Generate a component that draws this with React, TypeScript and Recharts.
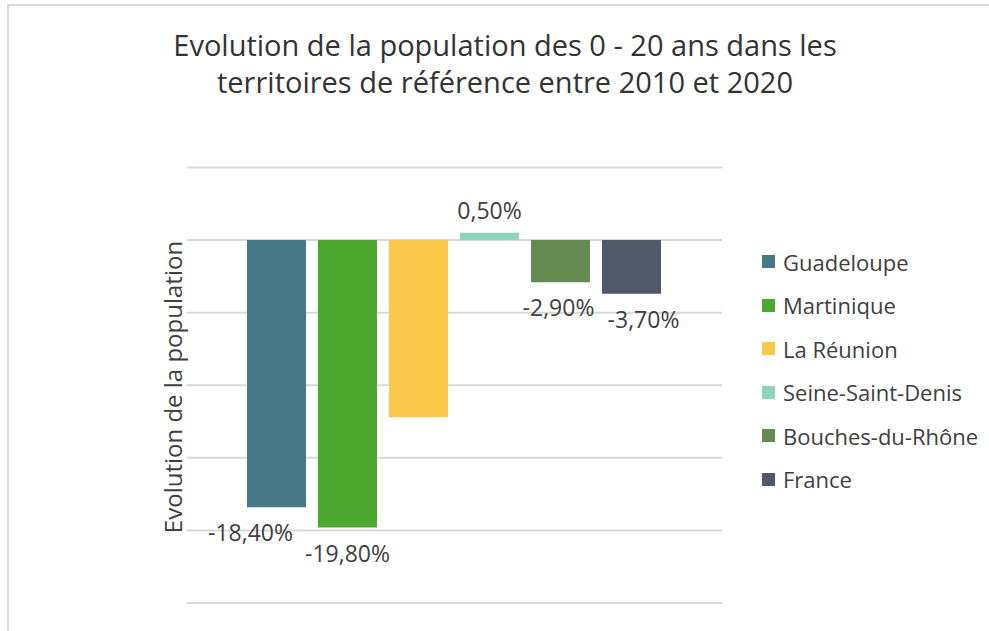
import { BarChart, Bar, XAxis, YAxis, CartesianGrid, LabelList } from 'recharts';

const territories = ['Guadeloupe', 'Martinique', 'La Réunion', 'Seine-Saint-Denis', 'Bouches-du-Rhône', 'France'];
const evolution = [-18.4, -19.8, -12.2, 0.5, -2.9, -3.7];
const colors = ['#467886', '#4ea72e', '#fcc84a', '#8ed3bb', '#668b52', '#515868'];
const yTicks = [5, 0, -5, -10, -15, -20, -25];
// labels Excel moved a bit sideways; La Réunion shows none
const labelShift = [-26, 0, 0, 0, -2, 12];
const showLabel = [true, true, false, true, true, true];

const FONT = '"Open Sans", "Noto Sans", sans-serif';
const TEXT = '#404040';

const row: Record<string, string | number> = { name: 'Evolution' };
territories.forEach((t, i) => {
  row[t] = evolution[i];
});
const data = [row];

const fmt = (v: number) => `${v.toFixed(2).replace('.', ',')}%`;

function makeLabel(i: number) {
  return function BarLabel(props: any) {
    const { x, y, width, height, value } = props;
    if (!showLabel[i] || value == null) return null;
    const top = Math.min(y, y + height);
    const bottom = Math.max(y, y + height);
    const v = Number(value);
    const ty = v < 0 ? bottom + 25 : top - 23;
    return (
      <text
        x={x + width / 2 + labelShift[i]}
        y={ty}
        textAnchor="middle"
        dominantBaseline="central"
        fill={TEXT}
        fontSize={23}
        fontFamily={FONT}
      >
        {fmt(v)}
      </text>
    );
  };
}

export default function App() {
  return (
    <div style={{ position: 'absolute', left: 0, top: 0, width: 989, height: 631, background: '#fff', overflow: 'hidden' }}>
      {/* frame of the original chart area */}
      <div style={{ position: 'absolute', left: 7, top: 4, right: -10, bottom: -10, borderLeft: '2px solid #d9d9d9', borderTop: '2px solid #d9d9d9' }} />

      <div
        style={{
          position: 'absolute',
          left: 0,
          width: 1010,
          top: 26,
          textAlign: 'center',
          fontFamily: FONT,
          fontSize: 29,
          lineHeight: '37px',
          color: '#333',
        }}
      >
        Evolution de la population des 0 - 20 ans dans les
        <br />
        territoires de référence entre 2010 et 2020
      </div>

      <div
        style={{
          position: 'absolute',
          left: 172,
          top: 387,
          transform: 'translate(-50%, -50%) rotate(-90deg)',
          whiteSpace: 'nowrap',
          fontFamily: FONT,
          fontSize: 24,
          color: TEXT,
        }}
      >
        Evolution de la population
      </div>

      <div style={{ position: 'absolute', left: 762, top: 240, fontFamily: FONT, fontSize: 22, color: TEXT }}>
        {territories.map((t, i) => (
          <div key={t} style={{ display: 'flex', alignItems: 'center', height: 43.5 }}>
            <span style={{ width: 13, height: 13, background: colors[i], marginRight: 8, display: 'inline-block' }} />
            <span>{t}</span>
          </div>
        ))}
      </div>

      <div style={{ position: 'absolute', left: 0, top: 0 }}>
        <BarChart
          width={989}
          height={631}
          data={data}
          margin={{ top: 167.5, right: 267, bottom: 28, left: 187 }}
          barCategoryGap={60}
          barGap={12}
        >
          <CartesianGrid horizontal vertical={false} stroke="#d9d9d9" strokeWidth={2} />
          <XAxis dataKey="name" hide />
          <YAxis domain={[-25, 5]} ticks={yTicks} hide />
          {territories.map((t, i) => (
            <Bar key={t} dataKey={t} fill={colors[i]} isAnimationActive={false}>
              <LabelList dataKey={t} content={makeLabel(i)} />
            </Bar>
          ))}
        </BarChart>
      </div>
    </div>
  );
}
